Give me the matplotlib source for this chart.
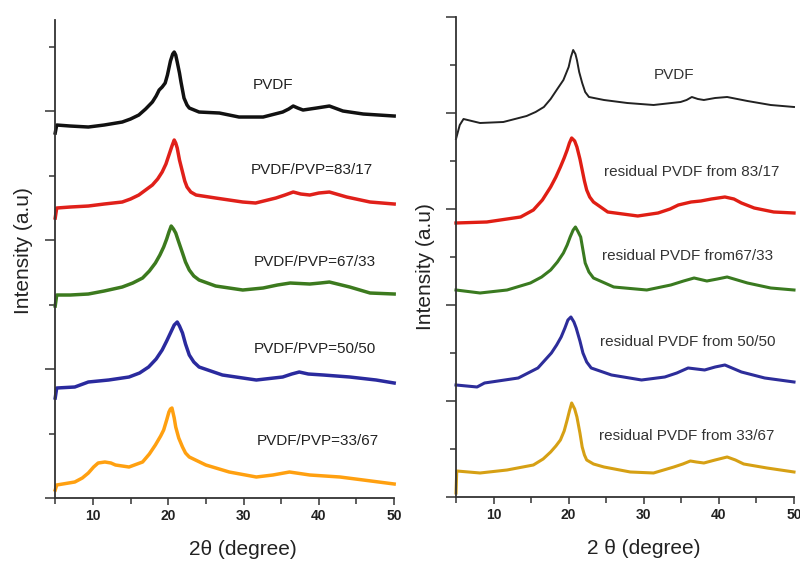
import matplotlib
matplotlib.use("Agg")
import matplotlib.pyplot as plt
from matplotlib.ticker import MultipleLocator

plt.rcParams['font.family'] = ['Liberation Sans', 'DejaVu Sans']

# ---------------- data: left panel (stacked intensity, a.u.) ----------------
x_black_L = [5.0, 5.2, 7.0, 9.4, 11.5, 13.9, 15.0, 16.1, 17.0, 17.9, 18.4, 18.8, 19.2, 19.6, 19.9, 20.3, 20.6, 20.8, 21.0, 21.2, 21.5, 21.7, 22.1, 22.5, 22.8, 24.1, 26.8, 29.4, 32.6, 35.2, 36.0, 36.6, 37.2, 37.9, 39.7, 41.4, 43.2, 45.9, 50]
y_black_L = [365, 373, 372, 371, 373, 376, 379, 383, 389, 396, 402, 408, 411, 415, 423, 437, 444, 446, 443, 436, 425, 416, 400, 393, 390, 386, 385, 381, 381, 386, 389, 392, 390, 388, 390, 392, 387, 384, 382]

x_red_L = [5.0, 5.2, 7.0, 9.4, 11.5, 13.9, 15.0, 16.1, 17.0, 17.9, 18.6, 19.2, 19.7, 20.1, 20.5, 20.8, 21.0, 21.2, 21.5, 21.9, 22.2, 22.5, 23.0, 23.7, 26.3, 29.9, 31.6, 34.3, 35.5, 36.6, 37.6, 38.8, 40.0, 41.4, 43.7, 46.8, 50]
y_red_L = [280, 290, 291, 292, 294, 296, 299, 303, 308, 313, 319, 326, 334, 343, 352, 358, 355, 350, 338, 326, 317, 311, 306, 303, 300, 296, 295, 300, 303, 306, 304, 303, 305, 306, 301, 296, 294]

x_green_L = [5.0, 5.2, 7.0, 9.4, 11.5, 13.9, 15.3, 16.6, 17.5, 18.3, 18.9, 19.4, 19.8, 20.1, 20.4, 20.7, 21.0, 21.4, 21.9, 22.3, 22.8, 23.4, 24.1, 26.3, 29.9, 32.6, 34.5, 36.2, 38.8, 40.2, 41.4, 44.1, 46.8, 50]
y_green_L = [192, 203, 203, 204, 207, 211, 215, 220, 227, 235, 243, 251, 259, 266, 272, 269, 265, 256, 245, 236, 228, 222, 218, 212, 208, 210, 213, 215, 214, 215, 216, 211, 205, 204]

x_blue_L = [5.0, 5.2, 7.6, 9.4, 12.1, 14.8, 16.2, 17.4, 18.4, 19.2, 19.8, 20.3, 20.8, 21.2, 21.5, 21.9, 22.3, 22.8, 23.4, 24.1, 27.2, 31.7, 35.2, 36.4, 37.4, 38.6, 40.6, 44.1, 47.6, 50]
y_blue_L = [100, 110, 111, 116, 118, 121, 125, 131, 139, 148, 157, 165, 173, 176, 172, 165, 154, 143, 136, 131, 123, 118, 121, 124, 126, 124, 123, 121, 118, 115]

x_orange_L = [5.0, 5.2, 7.6, 8.6, 9.4, 10.1, 10.7, 11.6, 12.4, 13.0, 14.8, 16.6, 17.5, 18.3, 19.0, 19.4, 19.8, 20.1, 20.3, 20.5, 20.8, 21.0, 21.4, 21.9, 22.3, 22.8, 25.0, 28.1, 31.7, 33.9, 36.1, 38.8, 42.8, 45.9, 50]
y_orange_L = [8, 13, 16, 20, 25, 31, 35, 36, 35, 33, 31, 36, 44, 53, 62, 68, 78, 86, 89, 90, 80, 71, 60, 51, 45, 41, 33, 26, 21, 23, 26, 23, 21, 18, 14]

labels_L = ["PVDF", "PVDF/PVP=83/17", "PVDF/PVP=67/33", "PVDF/PVP=50/50", "PVDF/PVP=33/67"]
label_x_L = [33.9, 39.1, 39.5, 39.5, 39.8]
label_y_L = [413, 328, 236, 149, 57]

# ---------------- data: right panel ----------------
x_black_R = [5.0, 5.5, 6.0, 8.2, 11.3, 14.4, 15.6, 16.7, 17.6, 18.4, 19.3, 20.0, 20.3, 20.6, 20.9, 21.1, 21.4, 21.8, 22.2, 22.7, 24.7, 27.8, 31.3, 34.9, 35.7, 36.4, 37.2, 38.0, 39.5, 41.1, 43.8, 46.9, 50]
y_black_R = [358, 372, 378, 374, 375, 381, 385, 390, 398, 407, 417, 430, 440, 447, 443, 437, 425, 414, 405, 400, 397, 394, 392, 395, 397, 400, 398, 397, 399, 400, 396, 392, 390]

x_red_R = [5.0, 9.1, 13.6, 15.3, 16.5, 17.6, 18.3, 18.9, 19.4, 19.8, 20.1, 20.4, 20.8, 21.1, 21.5, 21.8, 22.1, 22.4, 22.8, 23.3, 25.2, 29.2, 31.9, 33.5, 34.6, 36.3, 37.6, 39.0, 40.8, 42.0, 43.0, 44.7, 47.3, 50]
y_red_R = [274, 275, 280, 287, 297, 310, 320, 330, 339, 347, 354, 359, 356, 350, 338, 327, 316, 307, 300, 295, 285, 281, 284, 288, 292, 295, 296, 298, 300, 298, 294, 289, 285, 284]

x_green_R = [5.0, 8.2, 11.8, 14.9, 16.4, 17.6, 18.5, 19.3, 19.8, 20.2, 20.6, 20.9, 21.2, 21.6, 21.9, 22.2, 22.7, 23.3, 26.0, 30.4, 33.6, 35.3, 36.7, 38.4, 39.8, 41.1, 43.8, 46.9, 50]
y_green_R = [207, 204, 207, 214, 220, 227, 235, 244, 252, 260, 267, 270, 266, 260, 247, 234, 225, 219, 210, 207, 212, 216, 219, 216, 218, 220, 214, 209, 207]

x_blue_R = [5.0, 7.8, 8.8, 13.3, 15.9, 17.7, 18.4, 19.0, 19.5, 19.9, 20.3, 20.7, 21.0, 21.5, 21.9, 22.4, 23.0, 25.7, 29.7, 32.8, 34.4, 35.9, 38.1, 39.5, 40.8, 43.0, 46.1, 50]
y_blue_R = [112, 110, 114, 119, 129, 144, 152, 160, 169, 177, 180, 175, 169, 156, 144, 135, 129, 122, 117, 120, 124, 129, 127, 130, 132, 125, 119, 115]

x_gold_R = [5.0, 5.1, 8.2, 11.8, 15.3, 16.6, 17.6, 18.3, 18.9, 19.4, 19.8, 20.1, 20.4, 20.8, 21.1, 21.5, 21.8, 22.1, 22.4, 23.3, 24.7, 28.2, 31.3, 34.0, 35.2, 36.2, 37.0, 38.0, 39.5, 41.1, 42.2, 43.3, 46.4, 50]
y_gold_R = [4, 26, 24, 27, 32, 38, 45, 51, 57, 66, 77, 86, 94, 88, 80, 64, 50, 42, 37, 33, 30, 25, 24, 30, 33, 36, 35, 34, 37, 40, 37, 33, 29, 25]

labels_R = ["PVDF", "residual PVDF from 83/17", "residual PVDF from67/33", "residual PVDF from 50/50", "residual PVDF from 33/67"]
label_x_R = [34.0, 36.4, 35.8, 35.8, 35.7]
label_y_R = [422, 325, 241, 155, 61]

x_ticks = [10, 20, 30, 40, 50]

# ---------------- figure ----------------
fig = plt.figure(figsize=(8.0, 5.61), dpi=100)
axL = fig.add_axes([0.069, 0.1123, 0.4237, 0.852])
axR = fig.add_axes([0.570, 0.1141, 0.4225, 0.8556])

series_L = [(x_black_L, y_black_L, '#111111'), (x_red_L, y_red_L, '#e0201a'),
            (x_green_L, y_green_L, '#3c7a1e'), (x_blue_L, y_blue_L, '#2a2a9e'),
            (x_orange_L, y_orange_L, '#ffa010')]
for xs, ys, c in series_L:
    axL.plot(xs, ys, color=c, lw=2.5, solid_joinstyle='round', clip_on=False)

series_R = [(x_black_R, y_black_R, '#222222', 1.4), (x_red_R, y_red_R, '#e01e14', 2.4),
            (x_green_R, y_green_R, '#3a7a20', 2.2), (x_blue_R, y_blue_R, '#2d2d9a', 2.2),
            (x_gold_R, y_gold_R, '#d6a014', 2.2)]
for xs, ys, c, lw in series_R:
    axR.plot(xs, ys, color=c, lw=lw, solid_joinstyle='round', clip_on=False)

for t, x, y in zip(labels_L, label_x_L, label_y_L):
    axL.text(x, y, t, ha='center', va='center', fontsize=11, color='#222222')
for t, x, y in zip(labels_R, label_x_R, label_y_R):
    axR.text(x, y, t, ha='center', va='center', fontsize=11, color='#333333')

for ax, ymax, major in ((axL, 478, 129), (axR, 480, 96)):
    ax.set_xlim(5, 50)
    ax.set_ylim(0, ymax)
    ax.spines['top'].set_visible(False)
    ax.spines['right'].set_visible(False)
    for s in ('left', 'bottom'):
        ax.spines[s].set_linewidth(1.3)
        ax.spines[s].set_color('#333333')
    ax.set_xticks(x_ticks)
    ax.set_xticklabels([str(v) for v in x_ticks], fontweight='bold', fontsize=10)
    ax.xaxis.set_minor_locator(MultipleLocator(5))
    ax.yaxis.set_major_locator(MultipleLocator(major))
    ax.yaxis.set_minor_locator(MultipleLocator(major / 2))
    ax.set_yticklabels([])
    ax.tick_params(axis='x', which='major', length=5, width=1.1, pad=3, color='#333333', labelcolor='#222222')
    ax.tick_params(axis='x', which='minor', length=4, width=1.1, color='#333333')
    ax.tick_params(axis='y', which='major', length=7, width=1.1, color='#333333')
    ax.tick_params(axis='y', which='minor', length=4, width=1.1, color='#333333')
    ax.set_ylabel('Intensity (a.u)', fontsize=15, color='#222222')

axL.set_xlabel('2θ (degree)', fontsize=15, color='#222222')
axR.set_xlabel('2 θ (degree)', fontsize=15, color='#222222')
axL.xaxis.set_label_coords(0.555, -0.088)
axR.xaxis.set_label_coords(0.556, -0.088)
axL.yaxis.set_label_coords(-0.065, 0.517)
axR.yaxis.set_label_coords(-0.062, 0.481)

fig.savefig('out.png', dpi=100)
